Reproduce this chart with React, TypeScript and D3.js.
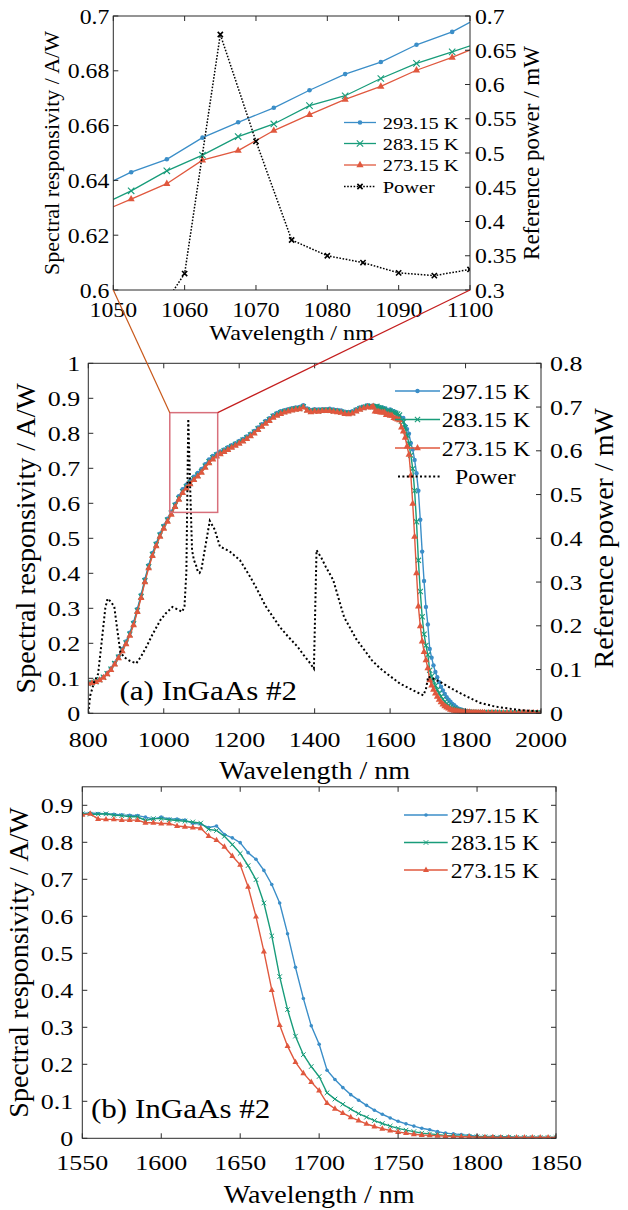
import React from "react";
import * as d3 from "d3";

// ---- inset: 1050–1100 nm, responsivity sampled on a 5 nm grid offset by 2.5 nm
const insetNm = d3.range(1047.5, 1103, 5);
const inset293 = [0.6366, 0.643, 0.6477, 0.6556, 0.6612, 0.6665, 0.6729, 0.6788, 0.6832, 0.6895, 0.6942, 0.7012];
const inset283 = [0.63, 0.6362, 0.6435, 0.6492, 0.656, 0.6606, 0.6673, 0.6709, 0.6772, 0.6827, 0.6869, 0.6913];
const inset273 = [0.6276, 0.6332, 0.6388, 0.6474, 0.6509, 0.6582, 0.664, 0.6696, 0.6743, 0.6802, 0.6849, 0.6903];

// reference power [nm, mW]
const power: [number, number][] = [
  [800, 0], [805, 0.04], [815, 0.07], [826, 0.09], [835, 0.16], [845, 0.24], [851, 0.262], [860, 0.255],
  [869, 0.243], [877, 0.19], [885, 0.14], [895, 0.128], [910, 0.12], [927, 0.114], [940, 0.13], [954, 0.152],
  [970, 0.18], [991, 0.213], [1005, 0.228], [1023, 0.243], [1035, 0.238], [1049, 0.232], [1055, 0.245],
  [1060, 0.324], [1065, 0.673], [1070, 0.517], [1075, 0.373], [1080, 0.35], [1085, 0.34], [1090, 0.325],
  [1095, 0.321], [1100, 0.33], [1110, 0.38], [1122, 0.44], [1135, 0.42], [1149, 0.381], [1162, 0.376],
  [1176, 0.369], [1202, 0.35], [1229, 0.312], [1244, 0.289], [1270, 0.245], [1308, 0.197], [1330, 0.175],
  [1355, 0.152], [1371, 0.133], [1385, 0.118], [1398, 0.102], [1405, 0.373], [1418, 0.355], [1430, 0.334],
  [1449, 0.305], [1478, 0.22], [1510, 0.17], [1552, 0.121], [1573, 0.103], [1600, 0.085], [1626, 0.068],
  [1660, 0.053], [1688, 0.041], [1695, 0.055], [1701, 0.084], [1715, 0.079], [1732, 0.072], [1760, 0.058],
  [1790, 0.044], [1838, 0.024], [1880, 0.015], [1940, 0.008], [2000, 0.004],
];

// ---- full range, 800–1540 nm every 10 nm
const lowNm = d3.range(800, 1550, 10);
const low297 = [
  0.086, 0.088, 0.091, 0.097, 0.104, 0.115, 0.128, 0.144, 0.163, 0.184,
  0.205, 0.23, 0.26, 0.298, 0.339, 0.383, 0.423, 0.458, 0.486, 0.513,
  0.536, 0.556, 0.576, 0.598, 0.62, 0.64, 0.653, 0.664, 0.676, 0.687,
  0.698, 0.712, 0.725, 0.735, 0.742, 0.748, 0.754, 0.76, 0.766, 0.772,
  0.778, 0.784, 0.791, 0.799, 0.807, 0.817, 0.826, 0.835, 0.843, 0.852,
  0.858, 0.863, 0.866, 0.869, 0.872, 0.874, 0.875, 0.88, 0.871, 0.867,
  0.869, 0.868, 0.869, 0.869, 0.87, 0.868, 0.867, 0.865, 0.862, 0.861,
  0.863, 0.869, 0.874, 0.877, 0.88,
];
const low283 = [
  0.085, 0.087, 0.09, 0.096, 0.103, 0.113, 0.126, 0.142, 0.16, 0.181,
  0.201, 0.226, 0.256, 0.294, 0.334, 0.379, 0.419, 0.454, 0.482, 0.509,
  0.532, 0.552, 0.572, 0.594, 0.614, 0.633, 0.647, 0.659, 0.67, 0.68,
  0.691, 0.706, 0.719, 0.73, 0.738, 0.744, 0.75, 0.756, 0.762, 0.768,
  0.774, 0.78, 0.787, 0.795, 0.803, 0.813, 0.822, 0.831, 0.839, 0.848,
  0.854, 0.859, 0.862, 0.865, 0.868, 0.87, 0.871, 0.876, 0.867, 0.863,
  0.865, 0.864, 0.866, 0.866, 0.866, 0.864, 0.863, 0.861, 0.858, 0.857,
  0.859, 0.865, 0.87, 0.874, 0.877,
];
const low273 = [
  0.085, 0.087, 0.09, 0.095, 0.102, 0.112, 0.124, 0.14, 0.158, 0.178,
  0.198, 0.222, 0.252, 0.29, 0.33, 0.375, 0.415, 0.45, 0.478, 0.505,
  0.528, 0.548, 0.568, 0.59, 0.611, 0.63, 0.643, 0.655, 0.667, 0.677,
  0.688, 0.702, 0.715, 0.726, 0.734, 0.741, 0.747, 0.753, 0.759, 0.765,
  0.771, 0.777, 0.784, 0.792, 0.8, 0.81, 0.819, 0.828, 0.836, 0.845,
  0.851, 0.856, 0.86, 0.863, 0.866, 0.868, 0.869, 0.874, 0.865, 0.861,
  0.863, 0.862, 0.864, 0.864, 0.864, 0.862, 0.861, 0.859, 0.856, 0.855,
  0.857, 0.863, 0.868, 0.872, 0.875,
];

// ---- cut-off edge, 1550–1850 nm every 5 nm
const edgeNm = d3.range(1550, 1851, 5);
const edge297 = [
  0.878, 0.879, 0.878, 0.877, 0.876, 0.874, 0.873, 0.872, 0.868, 0.863,
  0.868, 0.863, 0.863, 0.86, 0.851, 0.849, 0.84, 0.844, 0.821, 0.812,
  0.799, 0.772, 0.754, 0.724, 0.686, 0.636, 0.553, 0.462, 0.378, 0.304,
  0.254, 0.184, 0.159, 0.137, 0.118, 0.103, 0.089, 0.076, 0.065, 0.055,
  0.046, 0.039, 0.033, 0.027, 0.023, 0.018, 0.014, 0.012, 0.01, 0.008,
  0.006, 0.005, 0.005, 0.004, 0.004, 0.003, 0.003, 0.003, 0.003, 0.002,
  0.002,
];
const edge283 = [
  0.877, 0.876, 0.876, 0.877, 0.873, 0.872, 0.869, 0.869, 0.859, 0.864,
  0.864, 0.861, 0.859, 0.857, 0.855, 0.852, 0.835, 0.832, 0.816, 0.794,
  0.77, 0.737, 0.699, 0.636, 0.547, 0.437, 0.348, 0.276, 0.226, 0.194,
  0.167, 0.123, 0.106, 0.092, 0.079, 0.067, 0.057, 0.048, 0.04, 0.033,
  0.027, 0.022, 0.018, 0.014, 0.012, 0.01, 0.008, 0.007, 0.006, 0.005,
  0.004, 0.004, 0.003, 0.003, 0.003, 0.002, 0.002, 0.002, 0.002, 0.002,
  0.002,
];
const edge273 = [
  0.874, 0.877, 0.863, 0.862, 0.862, 0.86, 0.86, 0.86, 0.853, 0.853,
  0.851, 0.851, 0.844, 0.842, 0.84, 0.838, 0.817, 0.806, 0.788, 0.763,
  0.739, 0.68, 0.599, 0.505, 0.401, 0.306, 0.249, 0.206, 0.176, 0.152,
  0.129, 0.095, 0.08, 0.068, 0.057, 0.048, 0.039, 0.032, 0.026, 0.021,
  0.017, 0.014, 0.011, 0.009, 0.008, 0.007, 0.006, 0.005, 0.004, 0.004,
  0.003, 0.003, 0.003, 0.002, 0.002, 0.002, 0.002, 0.002, 0.002, 0.002,
  0.002,
];

// ---- tail, 1860–2000 nm every 10 nm
const tailNm = d3.range(1860, 2001, 10);
const tail297 = [0.002, 0.002, 0.002, 0.002, 0.002, 0.002, 0.002, 0.001, 0.001, 0.001, 0.001, 0.001, 0.001, 0.001, 0.001];
const tail283 = [0.002, 0.002, 0.002, 0.002, 0.001, 0.001, 0.001, 0.001, 0.001, 0.001, 0.001, 0.001, 0.001, 0.001, 0.001];
const tail273 = [0.002, 0.002, 0.002, 0.001, 0.001, 0.001, 0.001, 0.001, 0.001, 0.001, 0.001, 0.001, 0.001, 0.001, 0.001];

// zoom box drawn on the full-range plot [nm], [A/W]
const boxNm = [1016, 1143];
const boxResp = [0.574, 0.859];

// ticks
const insetXTicks = [1050, 1060, 1070, 1080, 1090, 1100];
const insetLTicks = [0.6, 0.62, 0.64, 0.66, 0.68, 0.7];
const insetRTicks = [0.3, 0.35, 0.4, 0.45, 0.5, 0.55, 0.6, 0.65, 0.7];
const midXTicks = [800, 1000, 1200, 1400, 1600, 1800, 2000];
const midLTicks = [0, 0.1, 0.2, 0.3, 0.4, 0.5, 0.6, 0.7, 0.8, 0.9, 1];
const midRTicks = [0, 0.1, 0.2, 0.3, 0.4, 0.5, 0.6, 0.7, 0.8];
const botXTicks = [1550, 1600, 1650, 1700, 1750, 1800, 1850];
const botYTicks = [0, 0.1, 0.2, 0.3, 0.4, 0.5, 0.6, 0.7, 0.8, 0.9];

const FONT = "'Liberation Serif', 'Times New Roman', Times, serif";
const BLUE = "#3b8ec8";
const GREEN = "#189c7a";
const RED = "#e0583e";
const AX = "#2b2b2b";
const fmt = d3.format("~g");

type Pt = [number, number];
const zip = (xs: number[], ys: number[]): Pt[] => xs.map((x, i) => [x, ys[i]] as Pt);

function Txt({ x, y, size, sx = 1, anchor = "start", rotate = 0, children }: any) {
  return (
    <text
      transform={`translate(${x},${y}) rotate(${rotate}) scale(${sx},1)`}
      fontSize={size}
      fontFamily={FONT}
      textAnchor={anchor}
      fill="#000"
    >
      {children}
    </text>
  );
}

function Marker({ kind, x, y, s, color, w = 1.1 }: any) {
  if (kind === "dot") return <circle cx={x} cy={y} r={s} fill={color} />;
  if (kind === "x")
    return (
      <path
        d={`M${x - s},${y - s}L${x + s},${y + s}M${x - s},${y + s}L${x + s},${y - s}`}
        stroke={color}
        strokeWidth={w}
        fill="none"
      />
    );
  return (
    <path
      d={`M${x},${y - s * 1.15}L${x + s},${y + s * 0.65}L${x - s},${y + s * 0.65}Z`}
      fill={color}
    />
  );
}

function Series({ pts, sx, sy, color, kind, ms, lw, mw }: any) {
  const line = d3.line<Pt>().x((d) => sx(d[0])).y((d) => sy(d[1]));
  return (
    <g>
      <path d={line(pts) || ""} fill="none" stroke={color} strokeWidth={lw} />
      {pts.map((d: Pt, i: number) => (
        <Marker key={i} kind={kind} x={sx(d[0])} y={sy(d[1])} s={ms} color={color} w={mw} />
      ))}
    </g>
  );
}

function XTicks({ scale, ticks, T, B, len = 5 }: any) {
  return (
    <g stroke={AX} strokeWidth={1}>
      {ticks.map((t: number) => (
        <g key={t}>
          <line x1={scale(t)} x2={scale(t)} y1={B} y2={B - len} />
          <line x1={scale(t)} x2={scale(t)} y1={T} y2={T + len} />
        </g>
      ))}
    </g>
  );
}

function YTicks({ scale, ticks, x, dir, len = 5 }: any) {
  return (
    <g stroke={AX} strokeWidth={1}>
      {ticks.map((t: number) => (
        <line key={t} x1={x} x2={x + dir * len} y1={scale(t)} y2={scale(t)} />
      ))}
    </g>
  );
}

export default function App() {
  // inset geometry
  const iL = 113.3, iR = 470, iT = 16, iB = 290;
  const ix = d3.scaleLinear().domain([1050, 1100]).range([iL, iR]);
  const iyL = d3.scaleLinear().domain([0.6, 0.7]).range([iB, iT]);
  const iyR = d3.scaleLinear().domain([0.3, 0.7]).range([iB, iT]);

  // full-range geometry
  const mL = 88.3, mR = 541, mT = 363.3, mB = 713.3;
  const mx = d3.scaleLinear().domain([800, 2000]).range([mL, mR]);
  const myL = d3.scaleLinear().domain([0, 1]).range([mB, mT]);
  const myR = d3.scaleLinear().domain([0, 0.8]).range([mB, mT]);

  // edge geometry
  const bL = 82.3, bR = 556, bT = 786.8, bB = 1138.3;
  const bx = d3.scaleLinear().domain([1550, 1850]).range([bL, bR]);
  const by = d3.scaleLinear().domain([0, 0.95]).range([bB, bT]);

  const insetSeries = [
    { pts: zip(insetNm, inset293), color: BLUE, kind: "dot", ms: 2.3, label: "293.15 K" },
    { pts: zip(insetNm, inset283), color: GREEN, kind: "x", ms: 3.2, label: "283.15 K" },
    { pts: zip(insetNm, inset273), color: RED, kind: "tri", ms: 3.6, label: "273.15 K" },
  ];
  const midSeries = [
    { pts: [...zip(lowNm, low297), ...zip(edgeNm, edge297), ...zip(tailNm, tail297)], color: BLUE, kind: "dot", ms: 2.2, label: "297.15 K" },
    { pts: [...zip(lowNm, low283), ...zip(edgeNm, edge283), ...zip(tailNm, tail283)], color: GREEN, kind: "x", ms: 2.6, label: "283.15 K" },
    { pts: [...zip(lowNm, low273), ...zip(edgeNm, edge273), ...zip(tailNm, tail273)], color: RED, kind: "tri", ms: 3.4, label: "273.15 K" },
  ];
  const botSeries = [
    { pts: zip(edgeNm, edge297), color: BLUE, kind: "dot", ms: 1.8, label: "297.15 K" },
    { pts: zip(edgeNm, edge283), color: GREEN, kind: "x", ms: 2.3, label: "283.15 K" },
    { pts: zip(edgeNm, edge273), color: RED, kind: "tri", ms: 3, label: "273.15 K" },
  ];

  const powerLineI = d3.line<Pt>().x((d) => ix(d[0])).y((d) => iyR(d[1]));
  const powerLineM = d3.line<Pt>().x((d) => mx(d[0])).y((d) => myR(d[1]));

  const insetLegY = [122.5, 143.5, 165, 186.5];
  const midLegY = [391, 419.5, 448, 476.5];
  const botLegY = [815, 842.5, 870];

  return (
    <>
      <style>{"body{margin:0}"}</style>
      <svg width={628} height={1210} style={{ display: "block", background: "#fff" }}>
        <defs>
          <clipPath id="clipI"><rect x={iL} y={iT} width={iR - iL} height={iB - iT} /></clipPath>
          <clipPath id="clipM"><rect x={mL} y={mT} width={mR - mL} height={mB - mT} /></clipPath>
          <clipPath id="clipB"><rect x={bL} y={bT} width={bR - bL} height={bB - bT} /></clipPath>
        </defs>

        {/* ================= inset ================= */}
        <g clipPath="url(#clipI)">
          {insetSeries.map((s) => (
            <Series key={s.label} pts={s.pts} sx={ix} sy={iyL} color={s.color} kind={s.kind} ms={s.ms} lw={1.3} mw={1.1} />
          ))}
          <path d={powerLineI(power) || ""} fill="none" stroke="#000" strokeWidth={1.5} strokeDasharray="1.6 1.6" />
          {power.map((d, i) => (
            <Marker key={i} kind="x" x={ix(d[0])} y={iyR(d[1])} s={2.6} color="#000" w={1.6} />
          ))}
        </g>
        <rect x={iL} y={iT} width={iR - iL} height={iB - iT} fill="none" stroke={AX} strokeWidth={1} />
        <XTicks scale={ix} ticks={insetXTicks} T={iT} B={iB} />
        <YTicks scale={iyL} ticks={insetLTicks} x={iL} dir={1} />
        <YTicks scale={iyR} ticks={insetRTicks} x={iR} dir={-1} />
        {insetXTicks.map((t) => (
          <Txt key={t} x={ix(t)} y={iB + 27} size={22} sx={1.08} anchor="middle">{t}</Txt>
        ))}
        {insetLTicks.map((t) => (
          <Txt key={t} x={iL - 4} y={iyL(t) + 7.5} size={22} sx={1.08} anchor="end">{fmt(t)}</Txt>
        ))}
        {insetRTicks.map((t) => (
          <Txt key={t} x={iR + 5} y={iyR(t) + 7.5} size={22} sx={1.08}>{fmt(t)}</Txt>
        ))}
        <Txt x={(iL + iR) / 2} y={340} size={22} sx={1.1} anchor="middle">Wavelength / nm</Txt>
        <Txt x={59} y={(iT + iB) / 2} size={22} rotate={-90} anchor="middle">Spectral responsivity / A/W</Txt>
        <Txt x={539} y={(iT + iB) / 2} size={23} rotate={-90} anchor="middle">Reference power / mW</Txt>
        {insetSeries.map((s, i) => (
          <g key={s.label}>
            <line x1={344} x2={376} y1={insetLegY[i]} y2={insetLegY[i]} stroke={s.color} strokeWidth={1.3} />
            <Marker kind={s.kind} x={360} y={insetLegY[i]} s={s.ms} color={s.color} w={1.1} />
            <Txt x={382.7} y={insetLegY[i] + 6} size={17} sx={1.2}>{s.label}</Txt>
          </g>
        ))}
        <line x1={344} x2={376} y1={insetLegY[3]} y2={insetLegY[3]} stroke="#000" strokeWidth={1.5} strokeDasharray="1.6 1.6" />
        <Marker kind="x" x={360} y={insetLegY[3]} s={2.6} color="#000" w={1.6} />
        <Txt x={382.7} y={insetLegY[3] + 6} size={17} sx={1.2}>Power</Txt>

        {/* ================= full range ================= */}
        <g clipPath="url(#clipM)">
          {midSeries.map((s) => (
            <Series key={s.label} pts={s.pts} sx={mx} sy={myL} color={s.color} kind={s.kind} ms={s.ms} lw={1.4} mw={1.1} />
          ))}
          <path d={powerLineM(power) || ""} fill="none" stroke="#000" strokeWidth={2} strokeDasharray="2 2.4" />
        </g>
        <rect x={mL} y={mT} width={mR - mL} height={mB - mT} fill="none" stroke={AX} strokeWidth={1} />
        <XTicks scale={mx} ticks={midXTicks} T={mT} B={mB} />
        <YTicks scale={myL} ticks={midLTicks} x={mL} dir={1} />
        <YTicks scale={myR} ticks={midRTicks} x={mR} dir={-1} />
        {midXTicks.map((t) => (
          <Txt key={t} x={mx(t)} y={mB + 33.4} size={22} sx={1.18} anchor="middle">{t}</Txt>
        ))}
        {midLTicks.map((t) => (
          <Txt key={t} x={mL - 8} y={myL(t) + 7.5} size={22} sx={1.18} anchor="end">{fmt(t)}</Txt>
        ))}
        {midRTicks.map((t) => (
          <Txt key={t} x={mR + 9} y={myR(t) + 7.5} size={22} sx={1.18}>{fmt(t)}</Txt>
        ))}
        <Txt x={(mL + mR) / 2} y={779} size={26} sx={1.08} anchor="middle">Wavelength / nm</Txt>
        <Txt x={35} y={(mT + mB) / 2} size={28} rotate={-90} anchor="middle">Spectral responsivity / A/W</Txt>
        <Txt x={613} y={(mT + mB) / 2} size={28} rotate={-90} anchor="middle">Reference power / mW</Txt>
        <Txt x={119.5} y={700} size={27} sx={1.15}>(a) InGaAs #2</Txt>
        {midSeries.map((s, i) => (
          <g key={s.label}>
            <line x1={395} x2={440} y1={midLegY[i]} y2={midLegY[i]} stroke={s.color} strokeWidth={1.4} />
            <Marker kind={s.kind} x={417.5} y={midLegY[i]} s={s.ms} color={s.color} w={1.1} />
            <Txt x={441.7} y={midLegY[i] + 7.5} size={22} sx={1.08}>{s.label}</Txt>
          </g>
        ))}
        <line x1={398} x2={440} y1={midLegY[3]} y2={midLegY[3]} stroke="#000" strokeWidth={2} strokeDasharray="2 2.4" />
        <Txt x={455} y={midLegY[3] + 7.5} size={22} sx={1.08}>Power</Txt>

        {/* zoom box and connectors */}
        <rect
          x={mx(boxNm[0])}
          y={myL(boxResp[1])}
          width={mx(boxNm[1]) - mx(boxNm[0])}
          height={myL(boxResp[0]) - myL(boxResp[1])}
          fill="none"
          stroke="#d8707c"
          strokeWidth={1.5}
        />
        <line x1={ix(1050)} y1={iyL(0.6)} x2={mx(boxNm[0])} y2={myL(boxResp[1])} stroke="#c8581a" strokeWidth={1.2} />
        <line x1={ix(1100)} y1={iyL(0.6)} x2={mx(boxNm[1])} y2={myL(boxResp[1])} stroke="#c41e1e" strokeWidth={1.2} />

        {/* ================= cut-off edge ================= */}
        <g clipPath="url(#clipB)">
          {botSeries.map((s) => (
            <Series key={s.label} pts={s.pts} sx={bx} sy={by} color={s.color} kind={s.kind} ms={s.ms} lw={1.4} mw={1} />
          ))}
        </g>
        <rect x={bL} y={bT} width={bR - bL} height={bB - bT} fill="none" stroke={AX} strokeWidth={1} />
        <XTicks scale={bx} ticks={botXTicks} T={bT} B={bB} />
        <YTicks scale={by} ticks={botYTicks} x={bL} dir={1} />
        <YTicks scale={by} ticks={botYTicks} x={bR} dir={-1} />
        {botXTicks.map((t) => (
          <Txt key={t} x={bx(t)} y={bB + 32} size={22} sx={1.18} anchor="middle">{t}</Txt>
        ))}
        {botYTicks.map((t) => (
          <Txt key={t} x={bL - 9} y={by(t) + 7.5} size={22} sx={1.18} anchor="end">{fmt(t)}</Txt>
        ))}
        <Txt x={(bL + bR) / 2} y={1203} size={26} sx={1.08} anchor="middle">Wavelength / nm</Txt>
        <Txt x={28} y={(bT + bB) / 2} size={28} rotate={-90} anchor="middle">Spectral responsivity / A/W</Txt>
        <Txt x={91} y={1118} size={27} sx={1.15}>(b) InGaAs #2</Txt>
        {botSeries.map((s, i) => (
          <g key={s.label}>
            <line x1={404} x2={447.7} y1={botLegY[i]} y2={botLegY[i]} stroke={s.color} strokeWidth={1.4} />
            <Marker kind={s.kind} x={426} y={botLegY[i]} s={s.ms} color={s.color} w={1} />
            <Txt x={450.7} y={botLegY[i] + 7.5} size={22} sx={1.08}>{s.label}</Txt>
          </g>
        ))}
      </svg>
    </>
  );
}
